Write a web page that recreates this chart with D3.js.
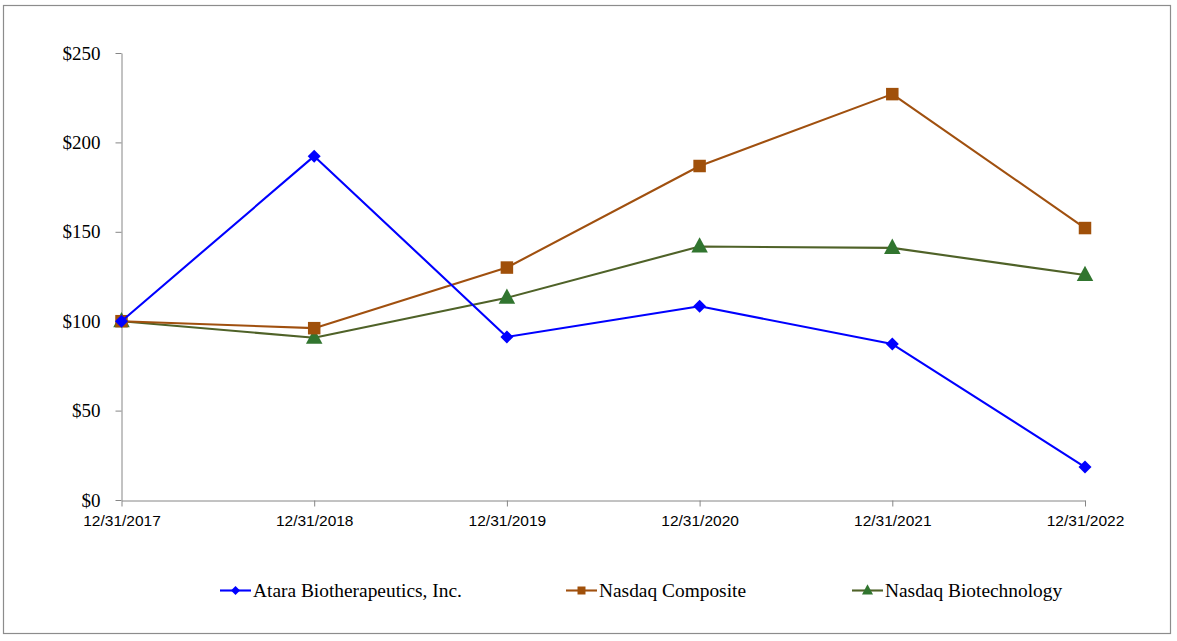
<!DOCTYPE html>
<html><head><meta charset="utf-8">
<script src="https://cdn.jsdelivr.net/npm/d3@7"></script>
<style>html,body{margin:0;padding:0;background:#fff;}svg{display:block;}</style>
</head><body>
<svg id="c" width="1177" height="641"></svg>
<script>
const categories = ["12/31/2017","12/31/2018","12/31/2019","12/31/2020","12/31/2021","12/31/2022"];
const seriesNames = ["Atara Biotherapeutics, Inc.","Nasdaq Composite","Nasdaq Biotechnology"];
const atara = [100, 192.3, 91.2, 108.4, 87.2, 18.4];
const composite = [100, 96.1, 130.0, 186.8, 227.0, 152.1];
const biotech = [100, 90.7, 113.1, 141.8, 141.0, 125.8];
const yTicks = [0, 50, 100, 150, 200, 250];

const series = [
  {name: seriesNames[0], values: atara, line: "#0000FF", marker: "#0000FF", shape: "diamond"},
  {name: seriesNames[1], values: composite, line: "#A0500F", marker: "#A0500A", shape: "square"},
  {name: seriesNames[2], values: biotech, line: "#4F6228", marker: "#31752F", shape: "triangle"}
];

const svg = d3.select("#c");
svg.append("rect").attr("x",3.5).attr("y",5.5).attr("width",1167).attr("height",628)
  .attr("fill","#fff").attr("stroke","#8c8c8c").attr("stroke-width",1.2);

const x = d3.scalePoint().domain(categories).range([121.5, 1085]);
const y = d3.scaleLinear().domain([0, 250]).range([500, 53]);

// y axis
const ya = svg.append("g").attr("transform","translate(121.5,0)")
  .call(d3.axisLeft(y).tickValues(yTicks).tickSize(6).tickSizeOuter(0).tickPadding(15).tickFormat(d => "$" + d));
ya.select(".domain").attr("stroke","#868686");
ya.selectAll(".tick line").attr("stroke","#868686");
ya.selectAll(".tick text").attr("font-family","'Liberation Serif', 'Times New Roman', serif")
  .attr("font-size","19px").attr("fill","#000").attr("dy","0.32em");

// x axis
const xa = svg.append("g").attr("transform","translate(0,500.5)")
  .call(d3.axisBottom(x).tickSize(6).tickSizeOuter(0).tickPadding(8));
xa.select(".domain").attr("stroke","#868686");
xa.selectAll(".tick line").attr("stroke","#868686");
xa.selectAll(".tick text").attr("font-family","'Liberation Sans', Arial, sans-serif")
  .attr("font-size","15.5px").attr("fill","#000");

function diamond(s){ const h=s/2; return `M0,${-h}L${h},0L0,${h}L${-h},0Z`; }
function shapeD(shape, s){
  if (shape === "diamond") return diamond(s);
  if (shape === "square") return d3.symbol().type(d3.symbolSquare).size(s*s)();
  return `M0,${-s*0.62}L${s*0.55},${s*0.4}L${-s*0.55},${s*0.4}Z`;
}

const line = d3.line().x((d,i) => x(categories[i])).y(d => y(d));

[series[2], series[1], series[0]].forEach(sr => {
  const g = svg.append("g");
  g.append("path").attr("d", line(sr.values)).attr("fill","none")
    .attr("stroke", sr.line).attr("stroke-width", 2.1).attr("stroke-linejoin","round");
  const size = sr.shape === "diamond" ? 13 : (sr.shape === "square" ? 12.5 : 15);
  g.selectAll("path.m").data(sr.values).enter().append("path").attr("class","m")
    .attr("transform",(d,i) => `translate(${x(categories[i])},${y(d)})`)
    .attr("d", shapeD(sr.shape, size)).attr("fill", sr.marker);
});

// legend
const legendX = [220, 566, 852];
series.forEach((sr, i) => {
  const g = svg.append("g").attr("transform", `translate(${legendX[i]},590.5)`);
  g.append("line").attr("x1",0).attr("x2",31).attr("y1",0).attr("y2",0)
    .attr("stroke", sr.line).attr("stroke-width",2.1);
  const size = sr.shape === "diamond" ? 9 : (sr.shape === "square" ? 8 : 10);
  g.append("path").attr("transform","translate(15.5,0)").attr("d", shapeD(sr.shape, size)).attr("fill", sr.marker);
  g.append("text").attr("x",33).attr("y",0).attr("dy","0.33em")
    .attr("font-family","'Liberation Serif', 'Times New Roman', serif").attr("font-size","19.4px")
    .attr("fill","#000").text(sr.name);
});
</script>
</body></html>
